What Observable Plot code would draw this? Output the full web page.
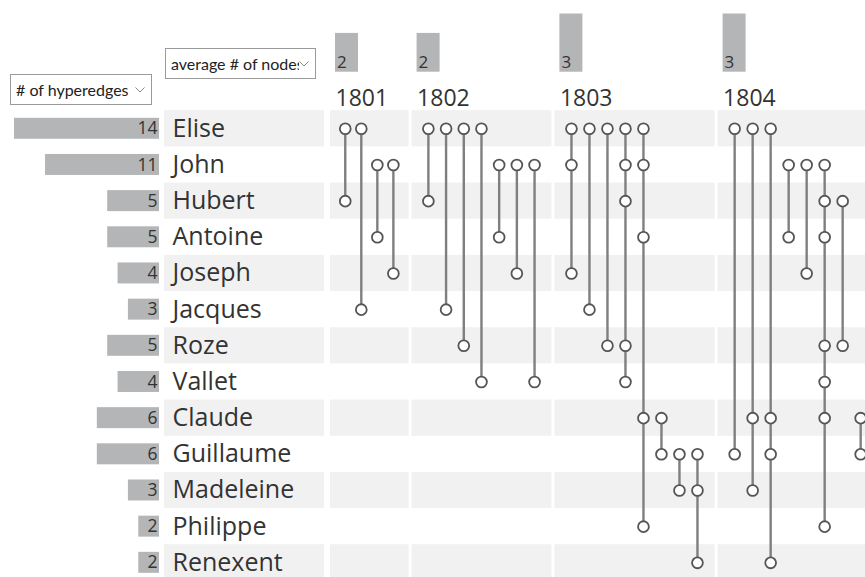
<!DOCTYPE html>
<html><head><meta charset="utf-8">
<script src="https://cdn.jsdelivr.net/npm/d3@7"></script>
<script src="https://cdn.jsdelivr.net/npm/@observablehq/plot@0.6"></script>
<style>
html,body{margin:0;padding:0;background:#fff;overflow:hidden;}
#root{position:relative;width:865px;height:577px;overflow:hidden;font-family:"Open Sans",sans-serif;}
.pane{position:absolute;top:0;}
.pane svg{display:block;background:transparent;}
select{position:absolute;font-family:Lato,sans-serif;font-size:16px;color:#222;border:1px solid #9a9a9a;border-radius:0;padding:0 16px 0 5px;height:31px;z-index:5;
  -webkit-appearance:none;appearance:none;
  background:#fff url("data:image/svg+xml;utf8,<svg xmlns='http://www.w3.org/2000/svg' width='10' height='6'><path d='M0.5 0.5 L5 5 L9.5 0.5' fill='none' stroke='%23888' stroke-width='1'/></svg>") no-repeat right 6px center;}
</style></head><body><div id="root">
<select id="sel-edges" style="left:10px;top:74px;width:142px"><option># of hyperedges</option></select>
<select id="sel-nodes" style="left:165px;top:48px;width:151px"><option>average # of nodes</option></select>
</div>
<script>
// ---- data ----
const names = ["Elise","John","Hubert","Antoine","Joseph","Jacques","Roze","Vallet","Claude","Guillaume","Madeleine","Philippe","Renexent"];
const hyperedgeCounts = [14,11,5,5,4,3,5,4,6,6,3,2,2];
const years = ["1801","1802","1803","1804"];
const avgNodes = [2,2,3,3];
const hyperedges1801 = [["Elise","Hubert"],["Elise","Jacques"],["John","Antoine"],["John","Joseph"]];
const hyperedges1802 = [["Elise","Hubert"],["Elise","Jacques"],["Elise","Roze"],["Elise","Vallet"],["John","Antoine"],["John","Joseph"],["John","Vallet"]];
const hyperedges1803 = [["Elise","John","Joseph"],["Elise","Jacques"],["Elise","Roze"],["Elise","John","Hubert","Roze","Vallet"],["Elise","John","Antoine","Claude","Philippe"],["Claude","Guillaume"],["Guillaume","Madeleine"],["Guillaume","Madeleine","Renexent"]];
const hyperedges1804 = [["Elise","Guillaume"],["Elise","Claude","Madeleine"],["Elise","Claude","Guillaume","Renexent"],["John","Antoine"],["John","Joseph"],["John","Hubert","Antoine","Roze","Vallet","Claude","Philippe"],["Hubert","Roze"],["Claude","Guillaume"]];
const hyperedgesByYear = [hyperedges1801, hyperedges1802, hyperedges1803, hyperedges1804];

// ---- layout ----
const W = 865, H = 577;
const rowTop = 110.2, rowStep = 36.17;
const leftW = 162, namesW = 168, graphX = 330;
const slotPx = 20.4, colGapPx = 3;
const font = "'Open Sans', sans-serif";
const ink = "#333";
const barFill = "#b3b5b6";
const bandFill = "#f1f1f1";

const totalSlots = d3.sum(hyperedgesByYear, e => e.length);
let cum = 0;
const columns = years.map((year, i) => {
  const n = hyperedgesByYear[i].length;
  const c = {year, avg: avgNodes[i], start: cum, n, end: cum + n - colGapPx / slotPx};
  cum += n;
  return c;
});
const edgeRows = columns.flatMap((c, i) => hyperedgesByYear[i].map((members, k) => {
  const idx = members.map(m => names.indexOf(m));
  return {year: c.year, pos: c.start + (k + 0.92) * (c.end - c.start) / (c.n + 0.9), top: d3.min(idx), bottom: d3.max(idx), members: idx};
}));
const nodeRows = edgeRows.flatMap(e => e.members.map(r => ({pos: e.pos, row: r})));
const rows = names.map((name, i) => ({name, i, count: hyperedgeCounts[i]}));
const shaded = rows.filter(r => r.i % 2 === 0);
const bands = columns.flatMap(c => shaded.map(r => ({start: c.start, end: c.end, i: r.i})));

const yRows = {domain: [-0.5, names.length - 0.5], range: [rowTop, rowTop + names.length * rowStep], axis: null};
const xGraph = {domain: [0, totalSlots], range: [0, totalSlots * slotPx], axis: null};
const baseStyle = {background: "transparent", fontFamily: font, overflow: "hidden"};

function place(svg, left) {
  const d = document.createElement("div");
  d.className = "pane";
  d.style.left = left + "px";
  d.appendChild(svg);
  document.getElementById("root").appendChild(d);
}

// counts bars
place(Plot.plot({
  width: leftW, height: H, margin: 0, style: baseStyle,
  x: {domain: [0, 14], range: [159, 159 - 14 * 10.36], axis: null},
  y: yRows,
  marks: [
    Plot.rect(rows, {x1: 0, x2: "count", y1: d => d.i - 0.29, y2: d => d.i + 0.29, fill: barFill}),
    Plot.text(rows, {x: 0, y: "i", text: d => String(d.count), textAnchor: "end", dx: -2, fontSize: 17.5, fill: ink})
  ]
}), 0);

// names
place(Plot.plot({
  width: namesW, height: H, margin: 0, style: baseStyle,
  x: {domain: [0, 1], range: [2, 162], axis: null},
  y: yRows,
  marks: [
    Plot.rect(shaded, {x1: 0, x2: 1, y1: d => d.i - 0.5, y2: d => d.i + 0.5, fill: bandFill}),
    Plot.text(rows, {x: 0, y: "i", text: "name", textAnchor: "start", dx: 8, fontSize: 25, fill: ink})
  ]
}), leftW);

// hypergraph
place(Plot.plot({
  width: W - graphX, height: H, margin: 0, style: baseStyle,
  x: xGraph,
  y: yRows,
  marks: [
    Plot.rect(bands, {x1: "start", x2: "end", y1: d => d.i - 0.5, y2: d => d.i + 0.5, fill: bandFill}),
    Plot.ruleX(edgeRows, {x: "pos", y1: "top", y2: "bottom", stroke: "#7f7f7f", strokeWidth: 2.4}),
    Plot.dot(nodeRows, {x: "pos", y: "row", r: 5.4, fill: "white", stroke: "#555", strokeWidth: 1.8})
  ]
}), graphX);

// header: average # of nodes + years
const barOff = 5 / slotPx, barW = 23 / slotPx;
place(Plot.plot({
  width: W - graphX, height: 112, margin: 0, style: baseStyle,
  x: xGraph,
  y: {domain: [0, 3], range: [71.7, 71.7 - 3 * 19.4], axis: null},
  marks: [
    Plot.rect(columns, {x1: d => d.start + barOff, x2: d => d.start + barOff + barW, y1: 0, y2: "avg", fill: barFill}),
    Plot.text(columns, {x: d => d.start + barOff, y: 0, text: d => String(d.avg), textAnchor: "start", lineAnchor: "bottom", dx: 1.5, dy: -4.5, fontSize: 17, fill: ink}),
    Plot.text(columns, {x: d => d.start + barOff, y: 0, text: "year", textAnchor: "start", lineAnchor: "bottom", dy: 34, fontSize: 23, fill: ink})
  ]
}), graphX);
</script>
</body></html>
